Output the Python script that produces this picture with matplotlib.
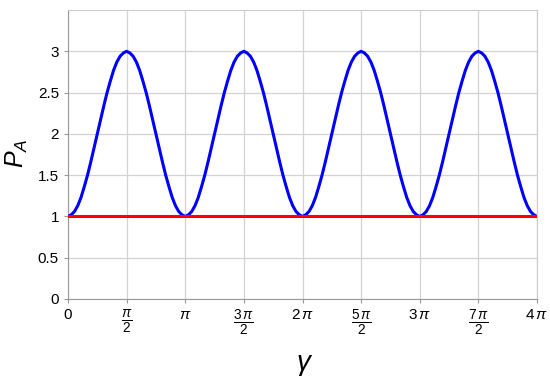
import numpy as np
import matplotlib.pyplot as plt

plt.rcParams['font.family'] = ['Liberation Sans', 'DejaVu Sans']
plt.rcParams['mathtext.fontset'] = 'custom'
plt.rcParams['mathtext.rm'] = 'Liberation Sans'
plt.rcParams['mathtext.it'] = 'Liberation Sans:italic'

period_values = [1.00, 1.02, 1.06, 1.13, 1.23, 1.36, 1.50, 1.66, 1.83,
                 2.00, 2.17, 2.34, 2.50, 2.64, 2.77, 2.87, 2.94, 2.98,
                 3.00, 2.98, 2.94, 2.87, 2.77, 2.64, 2.50, 2.34, 2.17,
                 2.00, 1.83, 1.66, 1.50, 1.36, 1.23, 1.13, 1.06, 1.02]
n_periods = 4
flat_value = 1.0

x_ticks = [0, 0.5, 1, 1.5, 2, 2.5, 3, 3.5, 4]
x_labels = ['0', r'$\frac{\pi}{2}$', r'$\pi$', r'$\frac{3\,\pi}{2}$', r'$2\,\pi$',
            r'$\frac{5\,\pi}{2}$', r'$3\,\pi$', r'$\frac{7\,\pi}{2}$', r'$4\,\pi$']
y_ticks = [0, 0.5, 1, 1.5, 2, 2.5, 3]
y_labels = ['0', '0.5', '1', '1.5', '2', '2.5', '3']

step = np.pi / len(period_values)
p_a = np.array(period_values * n_periods + [period_values[0]])
gamma = np.arange(len(p_a)) * step

fig = plt.figure(figsize=(5.5, 3.78), dpi=100)
ax = fig.add_axes([0.1236, 0.209, 0.8528, 0.7645])

ax.plot(gamma, p_a, color='#0000ff', lw=2.2, solid_capstyle='round',
        solid_joinstyle='round', zorder=3)
ax.plot([0, 4 * np.pi], [flat_value, flat_value], color='#ff0000', lw=2.2, zorder=4)

ax.set_xlim(0, 4 * np.pi)
ax.set_ylim(0, 3.5)
ax.set_xticks(np.array(x_ticks) * np.pi)
ax.set_xticklabels(x_labels, fontsize=11)
for lab in ax.get_xticklabels():
    if 'frac' in lab.get_text():
        lab.set_fontsize(14)
ax.set_yticks(y_ticks)
ax.set_yticklabels(y_labels, fontsize=11)
ax.grid(True, color='#d3d3d3', lw=0.9)
ax.set_axisbelow(True)

for side in ['left', 'bottom']:
    ax.spines[side].set_color('#999999')
for side in ['top', 'right']:
    ax.spines[side].set_color('#cccccc')
ax.tick_params(colors='#999999', labelcolor='black', length=3, width=0.8)

ax.set_xlabel(r'$\gamma$', fontsize=20)
ax.xaxis.set_label_coords(0.505, -0.185)
ax.set_ylabel(r'$P_A$', fontsize=18, rotation=90, ha='center', va='center')
ax.yaxis.set_label_coords(-0.108, 0.505)

fig.savefig('out.png', dpi=100)
